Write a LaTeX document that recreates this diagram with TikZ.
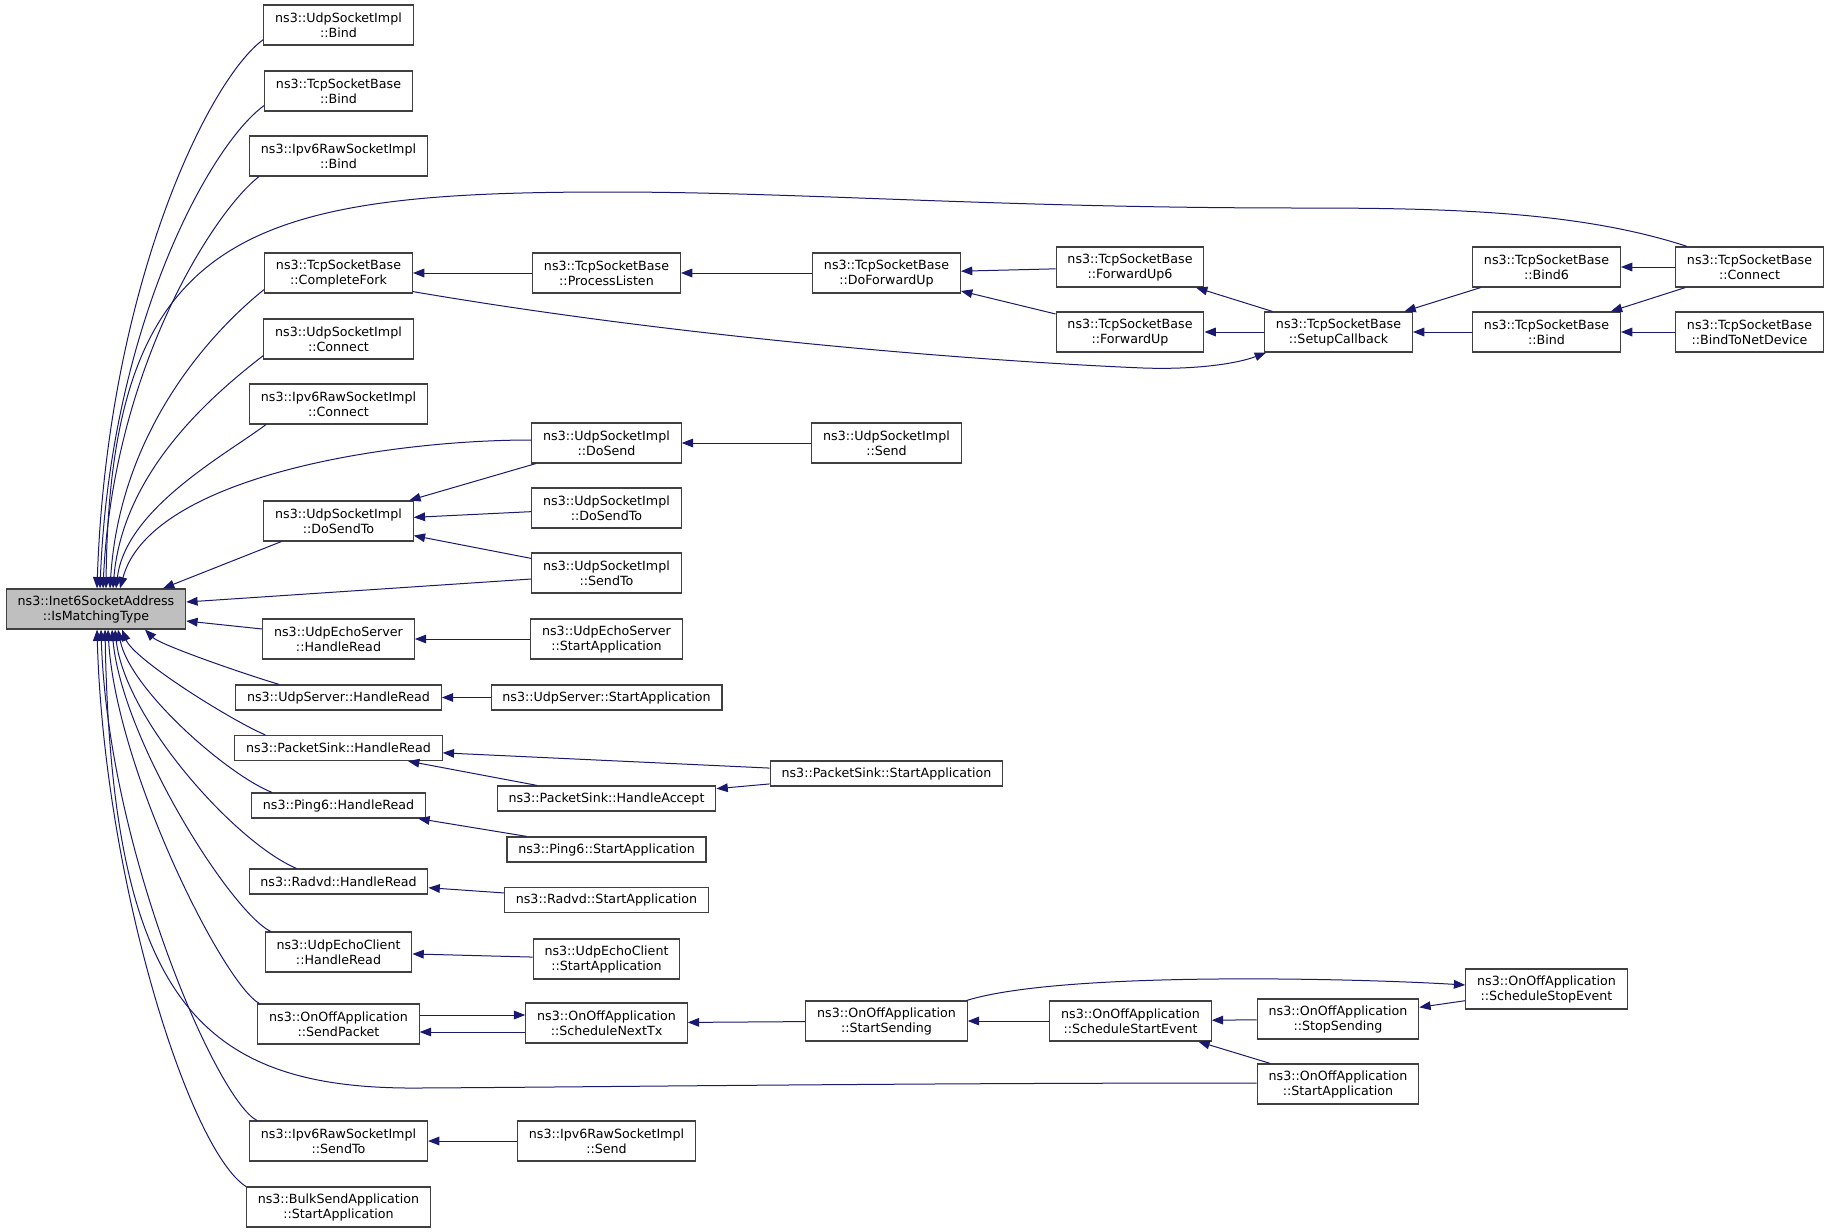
\documentclass[tikz,border=0pt]{standalone}
\usepackage{fontspec}
\setmainfont{DejaVu Sans}
\usetikzlibrary{arrows.meta,positioning}
\definecolor{edgeblue}{HTML}{191970}
\definecolor{nodeline}{HTML}{404040}
\definecolor{mainfill}{HTML}{BFBFBF}

\begin{document}
\begin{tikzpicture}[x=0.75pt,y=-0.75pt]
	\path[use as bounding box,fill=white] (0,0) rectangle (1829,1232);

	\begin{scope}[every node/.style={draw=nodeline,line width=0.9pt,align=center,
			font=\fontsize{9.5pt}{11.25pt}\selectfont,inner xsep=8.5pt,inner ysep=2pt,
			minimum height=30pt},
		oneline/.style={minimum height=18.75pt}]
		% left column
		\node (bindU) at (338.5,25) {ns3::UdpSocketImpl\\::Bind};
		\node (bindT) at (338.5,91) {ns3::TcpSocketBase\\::Bind};
		\node (bindR) at (338.5,156) {ns3::Ipv6RawSocketImpl\\::Bind};
		\node (fork) at (338.5,273) {ns3::TcpSocketBase\\::CompleteFork};
		\node (connU) at (338.5,339) {ns3::UdpSocketImpl\\::Connect};
		\node (connR) at (338.5,404) {ns3::Ipv6RawSocketImpl\\::Connect};
		\node (doSendToL) at (338.5,521) {ns3::UdpSocketImpl\\::DoSendTo};
		\node[fill=mainfill] (main) at (96,609) {ns3::Inet6SocketAddress\\::IsMatchingType};
		\node (echoSrv) at (338.5,639) {ns3::UdpEchoServer\\::HandleRead};
		\node[oneline] (udpSrv) at (338.5,697.5) {ns3::UdpServer::HandleRead};
		\node[oneline] (sinkRead) at (338.5,748) {ns3::PacketSink::HandleRead};
		\node[oneline] (pingRead) at (338.5,805.5) {ns3::Ping6::HandleRead};
		\node[oneline] (radvdRead) at (338.5,881.5) {ns3::Radvd::HandleRead};
		\node (echoCli) at (338.5,952) {ns3::UdpEchoClient\\::HandleRead};
		\node (sendPkt) at (338.5,1024) {ns3::OnOffApplication\\::SendPacket};
		\node (sendToR) at (338.5,1141) {ns3::Ipv6RawSocketImpl\\::SendTo};
		\node (bulk) at (338.5,1207) {ns3::BulkSendApplication\\::StartApplication};

		% second column
		\node (listen) at (606.5,273) {ns3::TcpSocketBase\\::ProcessListen};
		\node (doSend) at (606.5,443) {ns3::UdpSocketImpl\\::DoSend};
		\node (doSendToR) at (606.5,508) {ns3::UdpSocketImpl\\::DoSendTo};
		\node (sendToU) at (606.5,573) {ns3::UdpSocketImpl\\::SendTo};
		\node (echoSrvApp) at (606.5,639) {ns3::UdpEchoServer\\::StartApplication};
		\node[oneline] (udpSrvApp) at (606.5,697.5) {ns3::UdpServer::StartApplication};
		\node[oneline] (accept) at (606.5,798.5) {ns3::PacketSink::HandleAccept};
		\node[oneline] (pingApp) at (606.5,849.5) {ns3::Ping6::StartApplication};
		\node[oneline] (radvdApp) at (606.5,900) {ns3::Radvd::StartApplication};
		\node (echoCliApp) at (606.5,959) {ns3::UdpEchoClient\\::StartApplication};
		\node (nextTx) at (606.5,1023) {ns3::OnOffApplication\\::ScheduleNextTx};
		\node (rawSend) at (606.5,1141) {ns3::Ipv6RawSocketImpl\\::Send};

		% further columns
		\node (fwdUp) at (886.5,273) {ns3::TcpSocketBase\\::DoForwardUp};
		\node (sendU) at (886.5,443) {ns3::UdpSocketImpl\\::Send};
		\node[oneline] (sinkApp) at (886.5,773.5) {ns3::PacketSink::StartApplication};
		\node (startSend) at (886.5,1021) {ns3::OnOffApplication\\::StartSending};
		\node (fwd6) at (1130,267) {ns3::TcpSocketBase\\::ForwardUp6};
		\node (fwd) at (1130,332) {ns3::TcpSocketBase\\::ForwardUp};
		\node (schedStart) at (1130.5,1021) {ns3::OnOffApplication\\::ScheduleStartEvent};
		\node (setup) at (1338.5,332) {ns3::TcpSocketBase\\::SetupCallback};
		\node (stopSend) at (1338,1019) {ns3::OnOffApplication\\::StopSending};
		\node (onoffApp) at (1338,1084) {ns3::OnOffApplication\\::StartApplication};
		\node (bind6) at (1546.5,267) {ns3::TcpSocketBase\\::Bind6};
		\node (bindT2) at (1546.5,332) {ns3::TcpSocketBase\\::Bind};
		\node (stopEv) at (1546.5,989) {ns3::OnOffApplication\\::ScheduleStopEvent};
		\node (connT) at (1749.5,267) {ns3::TcpSocketBase\\::Connect};
		\node (bindDev) at (1749.5,332) {ns3::TcpSocketBase\\::BindToNetDevice};
	\end{scope}

	\begin{scope}[color=edgeblue,line width=0.75pt,>={Triangle[length=8.5pt,width=6.5pt]},->]
		% callers above the main node
		\draw ([shift={(0,-6)}]bindU.south west) .. controls +(-55,40) and +(10,-300) .. ([shift={(1,0)}]main.north);
		\draw ([shift={(0,-6)}]bindT.south west) .. controls +(-55,40) and +(10,-260) .. ([shift={(4,0)}]main.north);
		\draw ([shift={(10,0)}]bindR.south west) .. controls +(-45,35) and +(10,-220) .. ([shift={(7,0)}]main.north);
		\draw ([shift={(12,0)}]connT.north west) .. controls +(-107,-35) and +(150,0) .. (1300,208)
			.. controls +(-300,0) and +(190,0) .. (610,192)
			.. controls +(-360,0) and +(4,-359) .. ([shift={(10,0)}]main.north);
		\draw ([shift={(0,-4)}]fork.south west) .. controls +(-50,40) and +(10,-160) .. ([shift={(14,0)}]main.north);
		\draw ([shift={(0,-4)}]connU.south west) .. controls +(-45,35) and +(10,-120) .. ([shift={(17,0)}]main.north);
		\draw ([shift={(17,0)}]connR.south west) .. controls +(-40,30) and +(10,-80) .. ([shift={(20,0)}]main.north);
		\draw ([shift={(0,-3)}]doSend.west) .. controls +(-150,0) and +(30,-110) .. ([shift={(24,0)}]main.north);
		\path ([shift={(18,0)}]doSendToL.south west) edge ([shift={(67,0)}]main.north);
		\path ([shift={(0,6)}]sendToU.west) edge ([shift={(0,-7)}]main.east);
		\path ([shift={(0,-10)}]echoSrv.west) edge ([shift={(0,12)}]main.east);

		% callers below the main node
		\draw ([shift={(44,0)}]udpSrv.north west) .. controls +(-40,-12) and +(15,15) .. ([shift={(49,0)}]main.south);
		\draw ([shift={(31,0)}]sinkRead.north west) .. controls +(-35,-15) and +(12,30) .. ([shift={(26,0)}]main.south);
		\draw ([shift={(21,0)}]pingRead.north west) .. controls +(-45,-18) and +(12,60) .. ([shift={(22,0)}]main.south);
		\draw ([shift={(48,0)}]radvdRead.north west) .. controls +(-60,-25) and +(10,90) .. ([shift={(19,0)}]main.south);
		\draw ([shift={(6,0)}]echoCli.north west) .. controls +(-40,-20) and +(10,110) .. ([shift={(16,0)}]main.south);
		\draw ([shift={(2,0)}]sendPkt.north west) .. controls +(-36,-20) and +(8,140) .. ([shift={(12,0)}]main.south);
		\draw ([shift={(0,-1)}]onoffApp.west) .. controls +(-359,0) and +(180,-1) .. (420,1088)
			.. controls +(-220,2) and +(7,371) .. ([shift={(9,0)}]main.south);
		\draw ([shift={(8,0)}]sendToR.north west) .. controls +(-40,-20) and +(7,220) .. ([shift={(5,0)}]main.south);
		\draw (bulk.north west) .. controls +(-57,-37) and +(7,250) .. ([shift={(1,0)}]main.south);

		% tcp callers
		\path (listen) edge (fork);
		\draw ([shift={(0,-2)}]fork.south east) .. controls +(287,49) and +(-143,-6) .. (1143,368)
			.. controls +(57,2) and +(-26,10) .. ([shift={(2,0)}]setup.south west);
		\path (fwdUp) edge (listen);
		\path (fwd6) edge (fwdUp);
		\path (fwd) edge (fwdUp);
		\path (setup) edge (fwd6);
		\path (setup) edge (fwd);
		\path (bind6) edge (setup);
		\path (bindT2) edge (setup);
		\path (connT) edge (bind6);
		\path (connT) edge (bindT2);
		\path (bindDev) edge (bindT2);

		% udp callers
		\path (sendU) edge (doSend);
		\path (doSend) edge (doSendToL);
		\path (doSendToR) edge (doSendToL);
		\path (sendToU) edge (doSendToL);
		\path (echoSrvApp) edge (echoSrv);
		\path (udpSrvApp) edge (udpSrv);

		% application callers
		\path (sinkApp) edge (sinkRead);
		\path (sinkApp) edge (accept);
		\path (accept) edge (sinkRead);
		\path (pingApp) edge (pingRead);
		\path (radvdApp) edge (radvdRead);
		\path (echoCliApp) edge (echoCli);
		\path ([shift={(0,-9)}]sendPkt.east) edge ([shift={(0,-8)}]nextTx.west);
		\path ([shift={(0,9)}]nextTx.west) edge ([shift={(0,8)}]sendPkt.east);
		\path (startSend) edge (nextTx);
		\draw ([shift={(-1,0)}]startSend.north east) .. controls +(94,-29) and +(-117,-7) .. ([shift={(0,-4)}]stopEv.west);
		\path (schedStart) edge (startSend);
		\path (stopSend) edge (schedStart);
		\path (onoffApp) edge (schedStart);
		\path (stopEv) edge (stopSend);
		\path (rawSend) edge (sendToR);
	\end{scope}
\end{tikzpicture}
\end{document}
